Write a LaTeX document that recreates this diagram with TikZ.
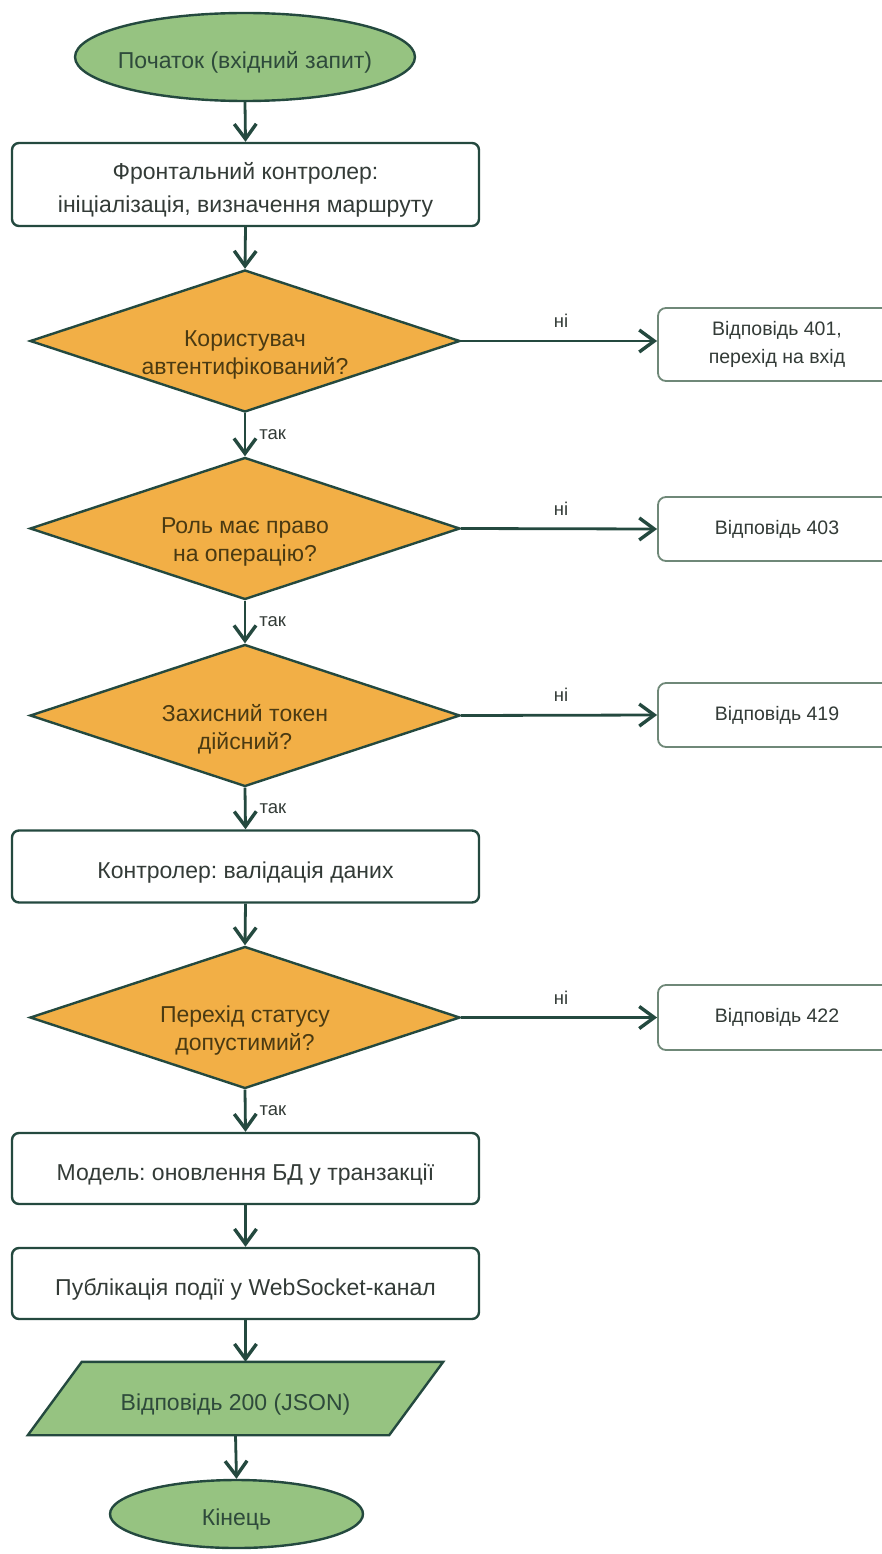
\documentclass[tikz,border=0pt]{standalone}
\usepackage{fontspec}
\setmainfont{Liberation Sans}
\usetikzlibrary{shapes.geometric,arrows.meta,backgrounds}
\definecolor{ink}{HTML}{24493F}
\definecolor{termfill}{HTML}{96C381}
\definecolor{decfill}{HTML}{F2AF46}
\definecolor{sidebord}{HTML}{6F8878}
\definecolor{txt}{HTML}{333B37}
\definecolor{dectxt}{HTML}{4A3A12}
\definecolor{termtxt}{HTML}{2E4A3B}
\frenchspacing
\tikzset{
  flow/.style={draw=ink, line width=2.8pt, -{Straight Barb[length=15pt,width=22pt,line width=3.4pt]}},
  lowtext/.style={text height=28pt, text depth=5pt},
  terminal/.style={ellipse, draw=ink, line width=2.4pt, fill=termfill, text=termtxt,
    font=\fontsize{23}{28}\selectfont, inner xsep=-10pt, inner ysep=0pt, lowtext},
  process/.style={rectangle, rounded corners=7pt, draw=ink, line width=2.4pt, fill=white,
    text=txt, minimum width=467pt, align=center, font=\fontsize{23}{33}\selectfont, inner sep=0pt},
  decision/.style={diamond, shape aspect=3.03, draw=ink, line width=2.4pt, fill=decfill,
    minimum width=430pt, minimum height=142pt, inner sep=0pt},
  dectext/.style={text=dectxt, align=center, inner sep=0pt, font=\fontsize{23}{28}\selectfont},
  sidebox/.style={rectangle, rounded corners=8pt, draw=sidebord, line width=1.8pt, fill=white,
    text=txt, minimum width=238pt, align=center, font=\fontsize{19.5}{28}\selectfont, inner sep=0pt},
  datashape/.style={minimum width=361pt, minimum height=73pt, inner sep=0pt, text=termtxt,
    font=\fontsize{23}{28}\selectfont, lowtext},
  lbl/.style={text=txt, font=\fontsize{18.5}{20}\selectfont, inner sep=0pt},
  yes/.style={lbl, anchor=west, pos=0.5, xshift=13pt},
  no/.style={lbl, anchor=south, pos=0.51, yshift=12pt},
}
\begin{document}
\begin{tikzpicture}[x=1pt,y=-1pt]
\useasboundingbox (0,0) rectangle (881,1554);

% main column
\node[terminal, minimum width=340pt, minimum height=88pt] (start) at (245,57) {Початок (вхідний запит)};
\node[process, minimum height=83pt, text height=62pt, text depth=5pt] (front) at (245.5,184.5) {Фронтальний контролер:\\ініціалізація, визначення маршруту};
\node[decision] (auth) at (245,341) {};
\node[dectext] (authq) at (245,355) {Користувач\\автентифікований?};
\node[decision] (role) at (245,528.5) {};
\node[dectext] (roleq) at (245,542) {Роль має право\\на операцію?};
\node[decision] (token) at (245,715.5) {};
\node[dectext] (tokenq) at (245,729) {Захисний токен\\дійсний?};
\node[process, lowtext, minimum height=72pt] (valid) at (245.5,866.5) {Контролер: валідація даних};
\node[decision] (status) at (245,1017.5) {};
\node[dectext] (statusq) at (245,1031) {Перехід статусу\\допустимий?};
\node[process, lowtext, minimum height=71pt] (model) at (245.5,1168.5) {Модель: оновлення БД у транзакції};
\node[process, lowtext, minimum height=71pt] (pub) at (245.5,1283.5) {Публікація події у WebSocket-канал};
\node[datashape] (resp) at (235.5,1398.5) {Відповідь 200 (JSON)};
\node[terminal, minimum width=253pt, minimum height=68pt] (finish) at (236.5,1514) {Кінець};

% parallelogram outline behind its text
\begin{scope}[on background layer]
\draw[ink, fill=termfill, line width=2.4pt, line join=miter]
  ([xshift=27pt]resp.north west) -- ([xshift=27pt]resp.north east)
  -- ([xshift=-27pt]resp.south east) -- ([xshift=-27pt]resp.south west) -- cycle;
\end{scope}

% side responses
\node[sidebox, minimum height=73pt] (e401) at (777,344.5) {Відповідь 401,\\перехід на вхід};
\node[sidebox, minimum height=64pt] (e403) at (777,529) {Відповідь 403};
\node[sidebox, minimum height=64pt] (e419) at (777,715) {Відповідь 419};
\node[sidebox, minimum height=65pt] (e422) at (777,1017.5) {Відповідь 422};

% vertical flow
\draw[flow] (start.south) -- (front.north);
\draw[flow] (front.south) -- (auth.north);
\draw[flow] (auth.south) -- node[yes] {так} (role.north);
\draw[flow] (role.south) -- node[yes] {так} (token.north);
\draw[flow] (token.south) -- node[yes] {так} (valid.north);
\draw[flow] (valid.south) -- (status.north);
\draw[flow] (status.south) -- node[yes] {так} (model.north);
\draw[flow] (model.south) -- (pub.north);
\draw[flow] (pub.south) -- (pub.south |- resp.north);
\draw[flow] (resp.south) -- (finish.north);

% rejection branches
\draw[flow] (auth.east) -- node[no] {ні} (e401.west |- auth.east);
\draw[flow] (role.east) -- node[no] {ні} (e403.west);
\draw[flow] (token.east) -- node[no] {ні} (e419.west);
\draw[flow] (status.east) -- node[no] {ні} (e422.west);
\end{tikzpicture}
\end{document}
